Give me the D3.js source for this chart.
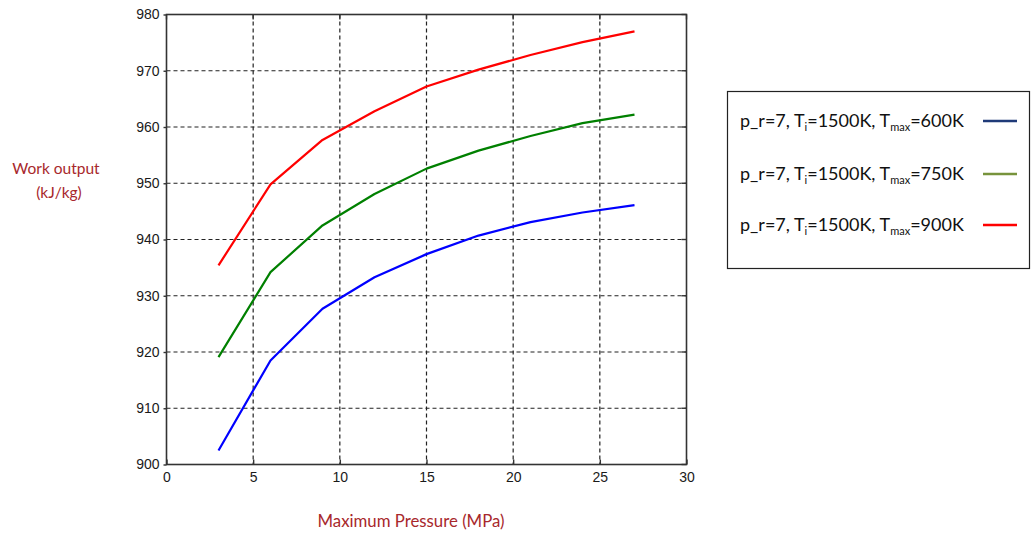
<!DOCTYPE html>
<html>
<head>
<meta charset="utf-8">
<script src="https://cdn.jsdelivr.net/npm/d3@7"></script>
<style>
  body { margin: 0; background: #fff; }
  svg { display: block; }
</style>
</head>
<body>
<svg id="chart" width="1032" height="537"></svg>
<script>
// Maximum pressure (MPa) at which each cycle was evaluated
const pressure = [3, 6, 9, 12, 15, 18, 21, 24, 27];

// Net work output (kJ/kg) for the three maximum-temperature cases
const work600 = [902.5, 918.5, 927.7, 933.3, 937.4, 940.7, 943.1, 944.8, 946.1];
const work750 = [919.1, 934.2, 942.5, 948.1, 952.6, 955.8, 958.4, 960.7, 962.2];
const work900 = [935.4, 949.8, 957.7, 962.8, 967.2, 970.2, 972.8, 975.1, 977.0];

const xTicks = [0, 5, 10, 15, 20, 25, 30];
const yTicks = [900, 910, 920, 930, 940, 950, 960, 970, 980];

const seriesNames = ["600K", "750K", "900K"];
const seriesValues = [work600, work750, work900];
const lineColors = ["#0000ff", "#008000", "#ff0000"];
const legendColors = ["#1f3a78", "#77933c", "#ff0000"];

const svg = d3.select("#chart");
const plot = { left: 166.5, top: 14.5, right: 686.5, bottom: 464.5 };

const x = d3.scaleLinear().domain([0, 30]).range([plot.left, plot.right]);
const y = d3.scaleLinear().domain([900, 980]).range([plot.bottom, plot.top]);

// Dashed grid
const grid = svg.append("g");
grid.selectAll("line.gx").data(xTicks.slice(1, -1)).join("line")
  .attr("x1", d => x(d)).attr("x2", d => x(d))
  .attr("y1", plot.top).attr("y2", plot.bottom)
  .attr("stroke", "#222").attr("stroke-width", 1.2).attr("stroke-dasharray", "4,3");
grid.selectAll("line.gy").data(yTicks.slice(1, -1)).join("line")
  .attr("x1", plot.left).attr("x2", plot.right)
  .attr("y1", d => y(d)).attr("y2", d => y(d))
  .attr("stroke", "#222").attr("stroke-width", 1.2).attr("stroke-dasharray", "4,3");

// Axes
const tickFont = "'Liberation Sans', Arial, sans-serif";
const xAxis = svg.append("g").attr("transform", `translate(0,${plot.bottom})`)
  .call(d3.axisBottom(x).tickValues(xTicks).tickSize(-5).tickSizeOuter(0).tickPadding(10));
const yAxis = svg.append("g").attr("transform", `translate(${plot.left},0)`)
  .call(d3.axisLeft(y).tickValues(yTicks).tickSize(3).tickSizeOuter(0).tickPadding(4));
[xAxis, yAxis].forEach(a => {
  a.select(".domain").remove();
  a.selectAll(".tick line").attr("stroke", "#333").attr("stroke-width", 1.4);
  a.selectAll(".tick text").attr("fill", "#1a1a1a")
    .style("font-family", tickFont).style("font-size", "14px");
});
xAxis.selectAll(".tick text").attr("dy", "0.55em");

// Inward ticks on the top and right edges
svg.append("g").selectAll("line").data(xTicks).join("line")
  .attr("x1", d => x(d)).attr("x2", d => x(d))
  .attr("y1", plot.top).attr("y2", plot.top + 5)
  .attr("stroke", "#333").attr("stroke-width", 1.4);
svg.append("g").selectAll("line").data(yTicks).join("line")
  .attr("x1", plot.right - 5).attr("x2", plot.right)
  .attr("y1", d => y(d)).attr("y2", d => y(d))
  .attr("stroke", "#333").attr("stroke-width", 1.4);

// Plot frame
svg.append("rect")
  .attr("x", plot.left).attr("y", plot.top)
  .attr("width", plot.right - plot.left).attr("height", plot.bottom - plot.top)
  .attr("fill", "none").attr("stroke", "#333").attr("stroke-width", 1.6);

// Data lines
const line = d3.line().x((d, i) => x(pressure[i])).y(d => y(d));
svg.append("g").selectAll("path").data(seriesValues).join("path")
  .attr("d", d => line(d))
  .attr("fill", "none")
  .attr("stroke", (d, i) => lineColors[i])
  .attr("stroke-width", 2.2)
  .attr("stroke-linejoin", "round");

// Axis titles
const titleFont = "Lato, 'Open Sans', sans-serif";
const titleColor = "#a8282c";
const yTitle = svg.append("text")
  .attr("fill", titleColor).style("font-family", titleFont).style("font-size", "15.5px")
  .attr("text-anchor", "middle");
yTitle.append("tspan").attr("x", 56).attr("y", 174).text("Work output");
yTitle.append("tspan").attr("x", 59).attr("y", 198).text("(kJ/kg)");

svg.append("text")
  .attr("x", 411).attr("y", 527)
  .attr("fill", titleColor).style("font-family", titleFont).style("font-size", "16.8px")
  .attr("text-anchor", "middle")
  .text("Maximum Pressure (MPa)");

// Legend
const legend = svg.append("g");
legend.append("rect")
  .attr("x", 727.5).attr("y", 91.5).attr("width", 302).attr("height", 177)
  .attr("fill", "#fff").attr("stroke", "#222").attr("stroke-width", 1.2);

const rowY = [121, 174, 225];
seriesNames.forEach((name, i) => {
  const t = legend.append("text")
    .attr("x", 740).attr("y", rowY[i] + 6)
    .attr("fill", "#111").style("font-family", titleFont).style("font-size", "18px");
  t.append("tspan").text("p_r=7, T");
  t.append("tspan").attr("font-size", "11px").attr("dy", 4).text("i");
  t.append("tspan").attr("dy", -4).text("=1500K, T");
  t.append("tspan").attr("font-size", "11px").attr("dy", 4).text("max");
  t.append("tspan").attr("dy", -4).text("=" + name);
  legend.append("line")
    .attr("x1", 983).attr("x2", 1017)
    .attr("y1", rowY[i]).attr("y2", rowY[i])
    .attr("stroke", legendColors[i]).attr("stroke-width", 2.5);
});
</script>
</body>
</html>
